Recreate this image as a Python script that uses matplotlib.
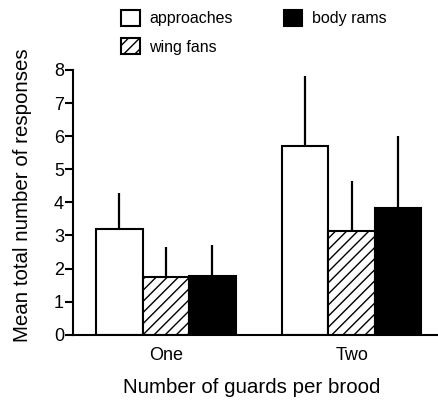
import numpy as np
import matplotlib
matplotlib.use("Agg")
import matplotlib.pyplot as plt

plt.rcParams['font.family'] = ['Liberation Sans', 'DejaVu Sans']
plt.rcParams['hatch.linewidth'] = 1.0

# data
groups = ["One", "Two"]
series = ["approaches", "wing fans", "body rams"]
means = {
    "approaches": [3.19, 5.69],
    "wing fans": [1.73, 3.12],
    "body rams": [1.76, 3.82],
}
errors = {
    "approaches": [1.09, 2.13],
    "wing fans": [0.92, 1.52],
    "body rams": [0.94, 2.20],
}
faces = {"approaches": "white", "wing fans": "white", "body rams": "black"}
hatches = {"approaches": None, "wing fans": "///", "body rams": None}

fig = plt.figure(figsize=(4.39, 4.0), dpi=100)
ax = fig.add_axes([73 / 439, 65.3 / 400, (438 - 73) / 439, (334.7 - 70) / 400])

x = np.arange(len(groups))
width = 0.25
for i, name in enumerate(series):
    pos = x + (i - 1) * width
    ax.bar(pos, means[name], width, color=faces[name], edgecolor="black",
           hatch=hatches[name], linewidth=1.5, label=name, zorder=2)
    ax.errorbar(pos, means[name], yerr=[np.zeros(len(groups)), errors[name]],
                fmt="none", ecolor="black", elinewidth=1.6, capsize=0, zorder=1)

ax.set_xlim(-0.5, 1.465)
ax.set_ylim(0, 8)
ax.set_yticks(range(0, 9))
ax.set_xticks(x)
ax.set_xticklabels(groups)
ax.tick_params(axis="y", length=6, width=1.5, labelsize=13, pad=0.5)
ax.tick_params(axis="x", length=0, labelsize=13, pad=9)
ax.spines["top"].set_visible(False)
ax.spines["right"].set_visible(False)
ax.spines["left"].set_linewidth(1.5)
ax.spines["bottom"].set_linewidth(1.5)
ax.set_ylabel("Mean total number of responses", fontsize=14.8, labelpad=16)
ax.set_xlabel("Number of guards per brood", fontsize=14.8, labelpad=10)
ax.xaxis.label.set_x(0.49)
ax.yaxis.label.set_y(0.527)

fig.legend(loc="upper left", bbox_to_anchor=(111 / 439, 1.0), ncol=2, frameon=False,
           fontsize=11.5, handlelength=1.15, handleheight=1.1, handletextpad=0.6,
           columnspacing=3.2, labelspacing=0.75, borderaxespad=0.25)

plt.savefig("out.png", dpi=100)
